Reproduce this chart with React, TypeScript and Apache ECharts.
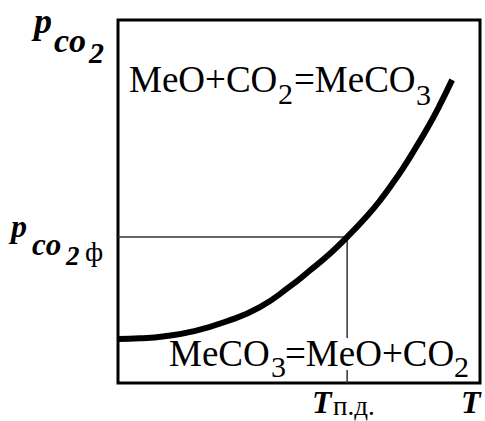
import React, { useEffect, useRef } from "react";
import * as echarts from "echarts";

// Equilibrium curve p_CO2(T) (arbitrary units, 0..100 on both axes)
const curveT = [0, 6.1, 12.4, 20.7, 30.1, 39.2, 47.5, 53.0, 58.6, 63.3, 68.8, 72.4, 76.5, 78.7, 82.0, 85.4, 88.4, 92.3];
const curveP = [12.1, 12.3, 12.8, 14.2, 17.0, 20.9, 26.6, 31.0, 35.7, 40.2, 46.0, 50.3, 55.9, 59.1, 64.4, 70.1, 75.6, 83.5];

// Actual CO2 pressure and the decomposition temperature
const pPhi = 40.2;
const Tpd = 63.3;

function t(text: string, x: number, baseline: number, size: number, bold = false, italic = false) {
  const font = `${italic ? "italic" : "normal"} ${bold ? "bold" : "normal"} ${size}px 'Liberation Serif', serif`;
  return {
    type: "text",
    x,
    y: baseline - 0.34 * size,
    z: 10,
    style: {
      text,
      font,
      fill: "#000",
      align: "left",
      verticalAlign: "middle",
    },
  };
}

export default function App() {
  const ref = useRef<HTMLDivElement>(null);
  useEffect(() => {
    if (!ref.current) return;
    const chart = echarts.init(ref.current, null, { renderer: "svg" });
    const curve = curveT.map((x, i) => [x, curveP[i]]);
    const option = {
      animation: false,
      backgroundColor: "#fff",
      grid: {
        left: 118,
        right: 5,
        top: 20,
        bottom: 38,
        show: true,
        borderColor: "#000",
        borderWidth: 3,
        backgroundColor: "transparent",
      },
      xAxis: {
        type: "value",
        min: 0,
        max: 100,
        axisLine: { show: false },
        axisTick: { show: false },
        axisLabel: { show: false },
        splitLine: { show: false },
      },
      yAxis: {
        type: "value",
        min: 0,
        max: 100,
        axisLine: { show: false },
        axisTick: { show: false },
        axisLabel: { show: false },
        splitLine: { show: false },
      },
      series: [
        {
          type: "line",
          data: [[0, pPhi], [Tpd, pPhi]],
          symbol: "none",
          lineStyle: { color: "#333", width: 1.5 },
          z: 1,
        },
        {
          type: "line",
          data: [[Tpd, pPhi], [Tpd, 12.4]],
          symbol: "none",
          lineStyle: { color: "#333", width: 1.5 },
          z: 1,
        },
        {
          type: "line",
          data: [[Tpd, 3.6], [Tpd, 0]],
          symbol: "none",
          lineStyle: { color: "#333", width: 1.5 },
          z: 1,
        },
        {
          type: "line",
          data: curve,
          symbol: "none",
          smooth: 0.5,
          lineStyle: { color: "#000", width: 6, cap: "butt" },
          z: 3,
        },
      ],
      graphic: [
        // p_CO2 (top-left)
        t("p", 34, 33, 36, true, true),
        t("co", 54, 52, 34, true, true),
        t("2", 89, 63, 30, true, true),
        // p_CO2 ф
        t("p", 11, 237, 32, true, true),
        t("co", 32, 255, 31, true, true),
        t("2", 66, 265, 27, true, true),
        t("ф", 85, 261, 28),
        // MeO+CO2=MeCO3
        t("MeO+CO", 129, 92, 37),
        t("2", 278, 104, 30),
        t("=MeCO", 294, 92, 37),
        t("3", 416, 105, 30),
        // MeCO3=MeO+CO2
        t("MeCO", 169, 366, 37),
        t("3", 271, 377, 30),
        t("=MeO+CO", 285, 366, 37),
        t("2", 454, 377, 30),
        // T labels
        t("T", 312, 413, 32, true, true),
        t("п.д.", 333, 415, 27),
        t("T", 461, 413, 32, true, true),
      ],
    };
    chart.setOption(option as any);
    return () => chart.dispose();
  }, []);
  return (
    <div
      ref={ref}
      style={{ position: "absolute", left: 0, top: 0, width: 485, height: 421 }}
    />
  );
}
